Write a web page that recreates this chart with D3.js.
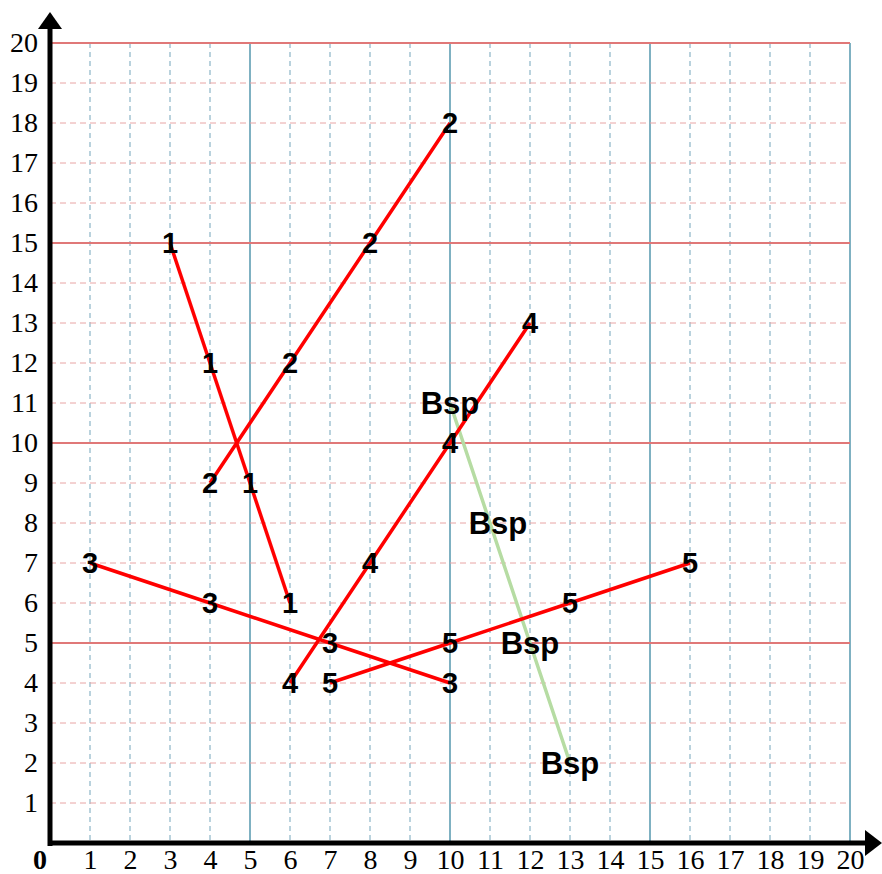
<!DOCTYPE html>
<html>
<head>
<meta charset="utf-8">
<script src="https://cdn.jsdelivr.net/npm/d3@7"></script>
<style>
  body { margin: 0; background: #fff; }
  .mark { font-family: "Liberation Sans", Arial, sans-serif; font-weight: bold; font-size: 29px; fill: #000; }
  .axislabels text { font-family: "Liberation Serif", "Times New Roman", serif; font-size: 28px; fill: #000; }
</style>
</head>
<body>
<div class="chart"></div>
<script>

// Red series: label and the four labelled points of each line
var seriesNames = ["1", "2", "3", "4", "5"];
var seriesX = [[3, 4, 5, 6], [4, 6, 8, 10], [1, 4, 7, 10], [6, 8, 10, 12], [7, 10, 13, 16]];
var seriesY = [[15, 12, 9, 6], [9, 12, 15, 18], [7, 6, 5, 4], [4, 7, 10, 13], [4, 5, 6, 7]];

// Green example line ("Bsp")
var bspName = "Bsp";
var bspX = [10, 11, 12, 13];
var bspY = [11, 8, 5, 2];
var bspLabelX = [10, 11.2, 12, 13];

var tickValues = d3.range(1, 21);

var width = 882, height = 874;
var serif = "Liberation Serif";

var x = d3.scaleLinear().domain([0, 20]).range([50, 850]);
var y = d3.scaleLinear().domain([0, 20]).range([843, 43]);

var svg = d3.select(".chart")
  .append("svg")
    .attr("width", width)
    .attr("height", height);

// Grid: dashed every unit, solid every 5
var grid = svg.append("g");

grid.selectAll(".vgrid")
  .data(tickValues)
  .enter()
  .append("line")
    .attr("x1", function(d) { return x(d); })
    .attr("x2", function(d) { return x(d); })
    .attr("y1", y(20))
    .attr("y2", y(0))
    .style("stroke", function(d) { return d % 5 == 0 ? "#7fb1c2" : "#b9d2dd"; })
    .style("stroke-width", 2)
    .style("stroke-dasharray", function(d) { return d % 5 == 0 ? null : "5,4"; });

grid.selectAll(".hgrid")
  .data(tickValues)
  .enter()
  .append("line")
    .attr("x1", x(0))
    .attr("x2", x(20))
    .attr("y1", function(d) { return y(d); })
    .attr("y2", function(d) { return y(d); })
    .style("stroke", function(d) { return d % 5 == 0 ? "#e07878" : "#e8a4a4"; })
    .style("stroke-width", function(d) { return d % 5 == 0 ? 2 : 1; })
    .style("stroke-dasharray", function(d) { return d % 5 == 0 ? null : "6,4"; });

// Tick labels (serif, like the original)
var xAxis = svg.append("g")
  .attr("transform", "translate(0," + y(0) + ")")
  .call(d3.axisBottom(x).tickValues(tickValues).tickSize(0).tickPadding(6).tickFormat(d3.format("d")))
  .attr("class", "axislabels")
  .attr("font-family", serif)
  .attr("font-size", 28);
xAxis.select(".domain").remove();

var yAxis = svg.append("g")
  .attr("transform", "translate(" + x(0) + ",0)")
  .call(d3.axisLeft(y).tickValues(tickValues).tickSize(0).tickPadding(12).tickFormat(d3.format("d")))
  .attr("class", "axislabels")
  .attr("font-family", serif)
  .attr("font-size", 28);
yAxis.select(".domain").remove();

svg.append("text")
  .attr("x", 40)
  .attr("y", 869)
  .attr("text-anchor", "middle")
  .attr("font-family", serif)
  .attr("font-weight", "bold")
  .attr("font-size", 28)
  .text("0");

// Lines
var line = d3.line()
  .x(function(d) { return x(d[0]); })
  .y(function(d) { return y(d[1]); });

svg.append("path")
  .attr("d", line(d3.zip(bspX, bspY)))
  .style("fill", "none")
  .style("stroke", "#b6dca3")
  .style("stroke-width", 3.5);

seriesNames.forEach(function(name, i) {
    svg.append("path")
      .attr("d", line(d3.zip(seriesX[i], seriesY[i])))
      .style("fill", "none")
      .style("stroke", "#ff0000")
      .style("stroke-width", 3.5);
});

// Axes with arrows
svg.append("line")
  .attr("x1", x(0)).attr("x2", x(0))
  .attr("y1", y(0) + 3).attr("y2", 26)
  .style("stroke", "#000").style("stroke-width", 5);
svg.append("line")
  .attr("x1", x(0) - 2).attr("x2", 868)
  .attr("y1", y(0)).attr("y2", y(0))
  .style("stroke", "#000").style("stroke-width", 5);
svg.append("path")
  .attr("d", "M" + (x(0) - 12) + ",29L" + x(0) + ",12L" + (x(0) + 12) + ",29Z")
  .style("fill", "#000");
svg.append("path")
  .attr("d", "M865," + (y(0) - 13) + "L882," + y(0) + "L865," + (y(0) + 13) + "Z")
  .style("fill", "#000");

// Point labels
seriesNames.forEach(function(name, i) {
    svg.selectAll(".lbl" + i)
      .data(seriesX[i])
      .enter()
      .append("text")
        .attr("class", "mark")
        .attr("x", function(d) { return x(d); })
        .attr("y", function(d, j) { return y(seriesY[i][j]); })
        .attr("dy", "0.36em")
        .attr("text-anchor", "middle")
        .text(name);
});

svg.selectAll(".bsp")
  .data(bspLabelX)
  .enter()
  .append("text")
    .attr("class", "mark")
    .attr("x", function(d) { return x(d); })
    .attr("y", function(d, j) { return y(bspY[j]); })
    .attr("dy", "0.36em")
    .attr("text-anchor", "middle")
    .style("font-size", "31px")
    .text(bspName);

</script>
</body>
</html>
